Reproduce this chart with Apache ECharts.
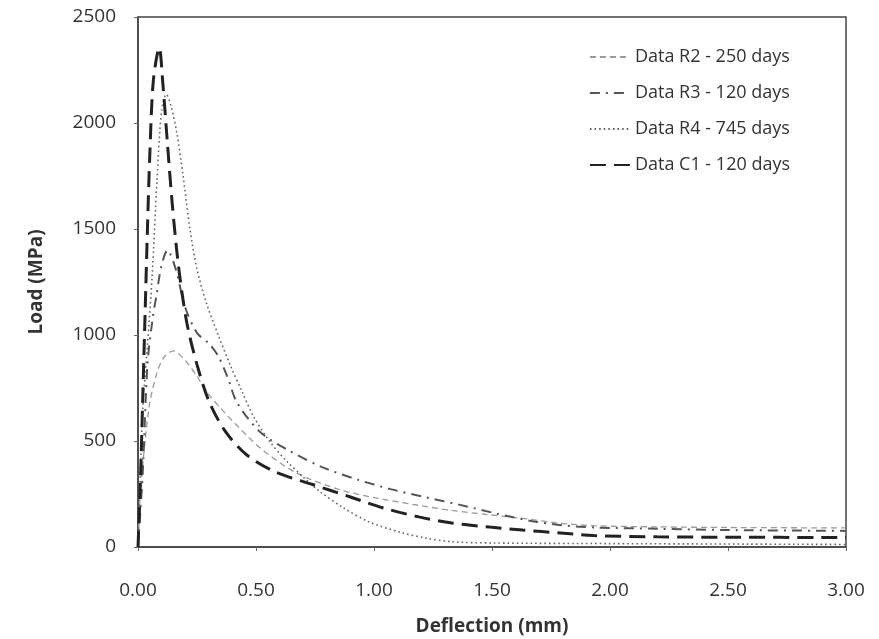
<!DOCTYPE html>
<html>
<head>
<meta charset="utf-8">
<script src="https://cdn.jsdelivr.net/npm/echarts@6/dist/echarts.min.js"></script>
<style>
  html, body { margin: 0; padding: 0; background: #ffffff; }
  #chart { width: 879px; height: 639px; }
</style>
</head>
<body>
<div id="chart"></div>
<script>
// Load–deflection curves, deflection in mm, load in MPa
const r2Deflection = [0, 0.01, 0.03, 0.05, 0.08, 0.11, 0.15, 0.20, 0.25, 0.30, 0.35, 0.40, 0.52, 0.67, 0.85, 1.01, 1.17, 1.32, 1.48, 1.63, 1.79, 1.94, 2.20, 2.50, 3.00];
const r2Load       = [0, 250, 500, 680, 820, 895, 925, 880, 805, 720, 655, 595, 465, 350, 272, 231, 200, 174, 153, 135, 112, 100, 95, 92, 90];

const r3Deflection = [0, 0.02, 0.04, 0.06, 0.08, 0.10, 0.125, 0.16, 0.20, 0.25, 0.30, 0.34, 0.38, 0.42, 0.52, 0.64, 0.78, 0.93, 1.07, 1.21, 1.36, 1.51, 1.66, 1.80, 1.94, 2.20, 2.50, 3.00];
const r3Load       = [0, 350, 860, 1060, 1200, 1330, 1400, 1310, 1130, 1010, 960, 900, 800, 680, 540, 455, 377, 318, 273, 237, 200, 160, 124, 102, 92, 86, 80, 76];

const r4Deflection = [0, 0.01, 0.02, 0.04, 0.06, 0.08, 0.10, 0.12, 0.14, 0.165, 0.19, 0.22, 0.25, 0.29, 0.34, 0.39, 0.44, 0.49, 0.56, 0.63, 0.70, 0.77, 0.87, 0.98, 1.11, 1.22, 1.33, 1.50, 2.00, 2.50, 3.00];
const r4Load       = [0, 350, 650, 950, 1280, 1720, 2060, 2135, 2080, 1950, 1760, 1500, 1310, 1150, 1000, 860, 735, 615, 495, 405, 330, 262, 185, 118, 70, 42, 25, 19, 16, 14, 12];

const c1Deflection = [0, 0.01, 0.02, 0.03, 0.04, 0.05, 0.065, 0.09, 0.105, 0.125, 0.145, 0.165, 0.185, 0.21, 0.25, 0.30, 0.37, 0.46, 0.58, 0.74, 0.90, 1.04, 1.19, 1.33, 1.49, 1.63, 1.79, 1.93, 2.20, 2.50, 3.00];
const c1Load       = [0, 300, 700, 1100, 1500, 1850, 2200, 2355, 2190, 1900, 1620, 1390, 1210, 1040, 860, 690, 545, 435, 355, 295, 236, 184, 142, 113, 94, 80, 66, 54, 48, 46, 45];

const seriesNames = ['Data R2 - 250 days', 'Data R3 - 120 days', 'Data R4 - 745 days', 'Data C1 - 120 days'];
const xTicks = [0, 0.5, 1, 1.5, 2, 2.5, 3];
const yTicks = [0, 500, 1000, 1500, 2000, 2500];

const pairs = (xs, ys) => xs.map((x, i) => [x, ys[i]]);

const chart = echarts.init(document.getElementById('chart'), null, { renderer: 'canvas' });

const font = '"Open Sans", Lato, "Liberation Sans", sans-serif';

function curve(name, data, color, width, type) {
  return {
    name: name,
    type: 'line',
    data: data,
    symbol: 'none',
    smooth: 0.3,
    lineStyle: { color: color, width: width, type: type, cap: 'butt' },
    itemStyle: { color: color },
    emphasis: { disabled: true },
    animation: false
  };
}

chart.setOption({
  backgroundColor: '#ffffff',
  animation: false,
  grid: {
    left: 138, right: 33, top: 17, bottom: 92,
    outerBoundsMode: 'none',
    containLabel: false,
    show: true, borderColor: '#444', borderWidth: 1.5, backgroundColor: 'transparent'
  },
  legend: {
    right: 84, top: 43,
    orient: 'vertical',
    itemGap: 18,
    itemWidth: 40, itemHeight: 10,
    itemStyle: { opacity: 0 },
    textStyle: { fontFamily: font, fontSize: 18, color: '#333' },
    data: seriesNames
  },
  xAxis: {
    type: 'value',
    min: 0, max: 3, interval: 0.5,
    name: 'Deflection (mm)',
    nameLocation: 'middle',
    nameGap: 70,
    nameTextStyle: { fontFamily: font, fontSize: 19, fontWeight: 'bold', color: '#333' },
    axisLine: { show: true, lineStyle: { color: '#444', width: 1.5 } },
    axisTick: { show: true, inside: false, length: 4, lineStyle: { color: '#666' } },
    axisLabel: {
      fontFamily: font, fontSize: 19, color: '#333', margin: 34,
      customValues: xTicks,
      formatter: v => v.toFixed(2)
    },
    splitLine: { show: false }
  },
  yAxis: {
    type: 'value',
    min: 0, max: 2500, interval: 500,
    name: 'Load (MPa)',
    nameLocation: 'middle',
    nameGap: 92,
    nameRotate: 90,
    nameTextStyle: { fontFamily: font, fontSize: 19, fontWeight: 'bold', color: '#333' },
    axisLine: { show: true, lineStyle: { color: '#444', width: 1.5 } },
    axisTick: { show: true, inside: false, length: 4, lineStyle: { color: '#666' } },
    axisLabel: {
      fontFamily: font, fontSize: 19, color: '#333', margin: 22,
      customValues: yTicks,
      formatter: v => String(v)
    },
    splitLine: { show: false }
  },
  series: [
    curve(seriesNames[0], pairs(r2Deflection, r2Load), '#9a9a9a', 1.3, [6, 4]),
    curve(seriesNames[1], pairs(r3Deflection, r3Load), '#555555', 2, [10, 6, 2, 6]),
    curve(seriesNames[2], pairs(r4Deflection, r4Load), '#666666', 1.6, [1.6, 3]),
    curve(seriesNames[3], pairs(c1Deflection, c1Load), '#222222', 3, [16, 8])
  ]
});
</script>
</body>
</html>
